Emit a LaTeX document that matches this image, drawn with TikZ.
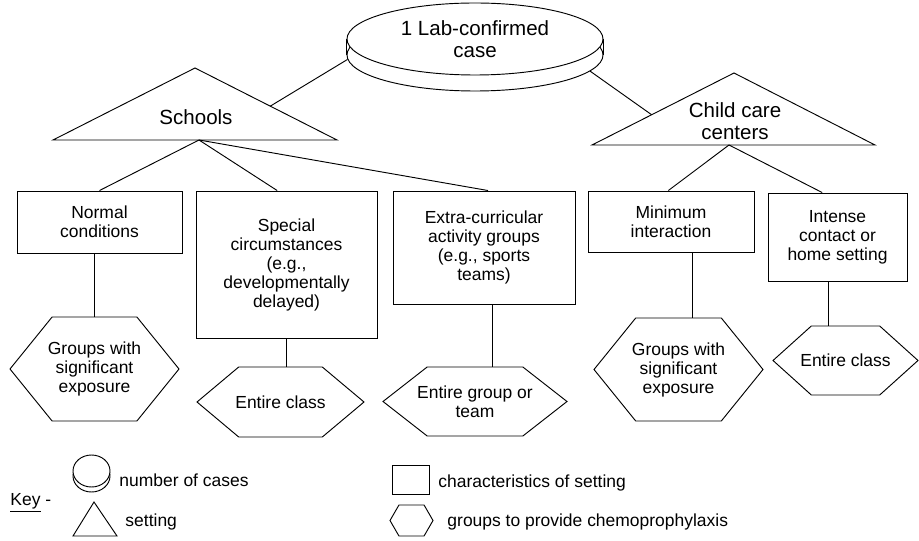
\documentclass[tikz,border=0pt]{standalone}
\usepackage{fontspec}
\setmainfont{Liberation Sans}
\usetikzlibrary{shapes.geometric,shapes.symbols,calc}

\begin{document}
\begin{tikzpicture}[x=0.75pt,y=-0.75pt,line width=0.7pt,
    every node/.style={font=\fontsize{13.1}{14.25}\selectfont,align=center,inner sep=0pt},
    bigtext/.style={font=\fontsize{15.4}{16.5}\selectfont},
    setbox/.style={draw,rectangle},
    hexa/.style={draw,signal,signal to=west and east,signal pointer angle=#1,inner xsep=-25pt},
    hexa/.default=102,
    disk/.style={draw,fill=white,ellipse}]
    \useasboundingbox (0,0) rectangle (919,541);

    \node[disk,minimum width=192pt,minimum height=54pt] (caseBase) at (475,55) {};
    \node[disk,bigtext,minimum width=192pt,minimum height=54pt] (case) at (475,39) {1 Lab-confirmed\\case};
    \draw (caseBase.west) -- (case.west);
    \draw (caseBase.east) -- (case.east);

    \coordinate (schoolsApex) at (195,68);
    \coordinate (schoolsLeft) at (53,140);
    \coordinate (schoolsRight) at (337,140);
    \draw (schoolsLeft) -- (schoolsApex) -- (schoolsRight) -- cycle;
    \node[bigtext] (schools) at (196,117) {Schools};
    \coordinate (schoolsBase) at (199,140);
    \coordinate (schoolsLink) at ($(schoolsApex)!0.53!(schoolsRight)$);

    \coordinate (childApex) at (734,73);
    \coordinate (childLeft) at (592,145);
    \coordinate (childRight) at (875,145);
    \draw (childLeft) -- (childApex) -- (childRight) -- cycle;
    \node[bigtext] (childCare) at (735,121) {Child care\\centers};
    \coordinate (childBase) at (729,145);
    \coordinate (childLink) at ($(childApex)!0.58!(childLeft)$);

    \draw (schoolsLink) -- (caseBase.182);
    \draw (childLink) -- (caseBase.-8);

    \node[setbox,minimum width=123.75pt,minimum height=46.5pt] (normal) at (99.5,222) {Normal\\conditions};
    \node[setbox,minimum width=135.75pt,minimum height=110.25pt] (special) at (286.5,264.5) {Special\\circumstances\\(e.g.,\\developmentally\\delayed)};
    \node[setbox,minimum width=136.5pt,minimum height=84.75pt] (extra) at (484,247.5) {Extra-curricular\\activity groups\\(e.g., sports\\teams)};
    \node[setbox,minimum width=124.5pt,minimum height=45.75pt] (minInt) at (671,221.5) {Minimum\\interaction};
    \node[setbox,minimum width=104.25pt,minimum height=66pt] (intense) at (837.5,237) {Intense\\contact or\\home setting};

    \foreach \b/\s in {normal/0pt,special/-7pt,extra/3pt}
        \draw (schoolsBase) -- ([xshift=\s]\b.north);
    \foreach \b/\s in {minInt/-2pt,intense/-11.5pt}
        \draw (childBase) -- ([xshift=\s]\b.north);

    \node[hexa,minimum width=126.75pt,minimum height=78pt] (grpNormal) at (94.5,369) {Groups with\\significant\\exposure};
    \node[hexa=80,minimum width=125.25pt,minimum height=52.5pt] (clsSpecial) at (280.5,402) {Entire class};
    \node[hexa=76,minimum width=138pt,minimum height=51.75pt] (grpExtra) at (475,401.5) {Entire group or\\team};
    \node[hexa,minimum width=126.75pt,minimum height=77.25pt] (grpMin) at (678.5,369.5) {Groups with\\significant\\exposure};
    \node[hexa=84,minimum width=108.75pt,minimum height=51.75pt] (clsIntense) at (845.5,360.5) {Entire class};

    \draw (grpNormal.north) -- (grpNormal.north |- normal.south);
    \draw (special.south) -- (special.south |- clsSpecial.north);
    \draw ([xshift=6pt]extra.south) -- ([xshift=6pt]extra.south |- grpExtra.north);
    \draw ([xshift=15.75pt]minInt.south) -- ([xshift=15.75pt]minInt.south |- grpMin.north);
    \draw ([xshift=-7pt]intense.south) -- ([xshift=-7pt]intense.south |- clsIntense.north);

    \node[anchor=west] (keyLabel) at (10,503) {\underline{Key} -};
    \node[disk,minimum width=27.75pt,minimum height=24pt] (keyDiskBase) at (91.5,476) {};
    \node[disk,minimum width=27.75pt,minimum height=24pt] (keyDisk) at (91.5,471) {};
    \node[anchor=west] (keyDiskText) at (119,480) {number of cases};
    \coordinate (keyTriApex) at (94,502);
    \draw (73,536) -- (keyTriApex) -- (117,536) -- cycle;
    \node[anchor=west] (keyTriText) at (125,522) {setting};
    \node[setbox,minimum width=27.75pt,minimum height=21.75pt] (keyBox) at (410.5,479.5) {};
    \node[anchor=west] (keyBoxText) at (438,483) {characteristics of setting};
    \node[hexa=120,inner xsep=0pt,minimum width=32.25pt,minimum height=23.25pt] (keyHex) at (411.5,520.5) {};
    \node[anchor=west] (keyHexText) at (447,522) {groups to provide chemoprophylaxis};
\end{tikzpicture}
\end{document}
